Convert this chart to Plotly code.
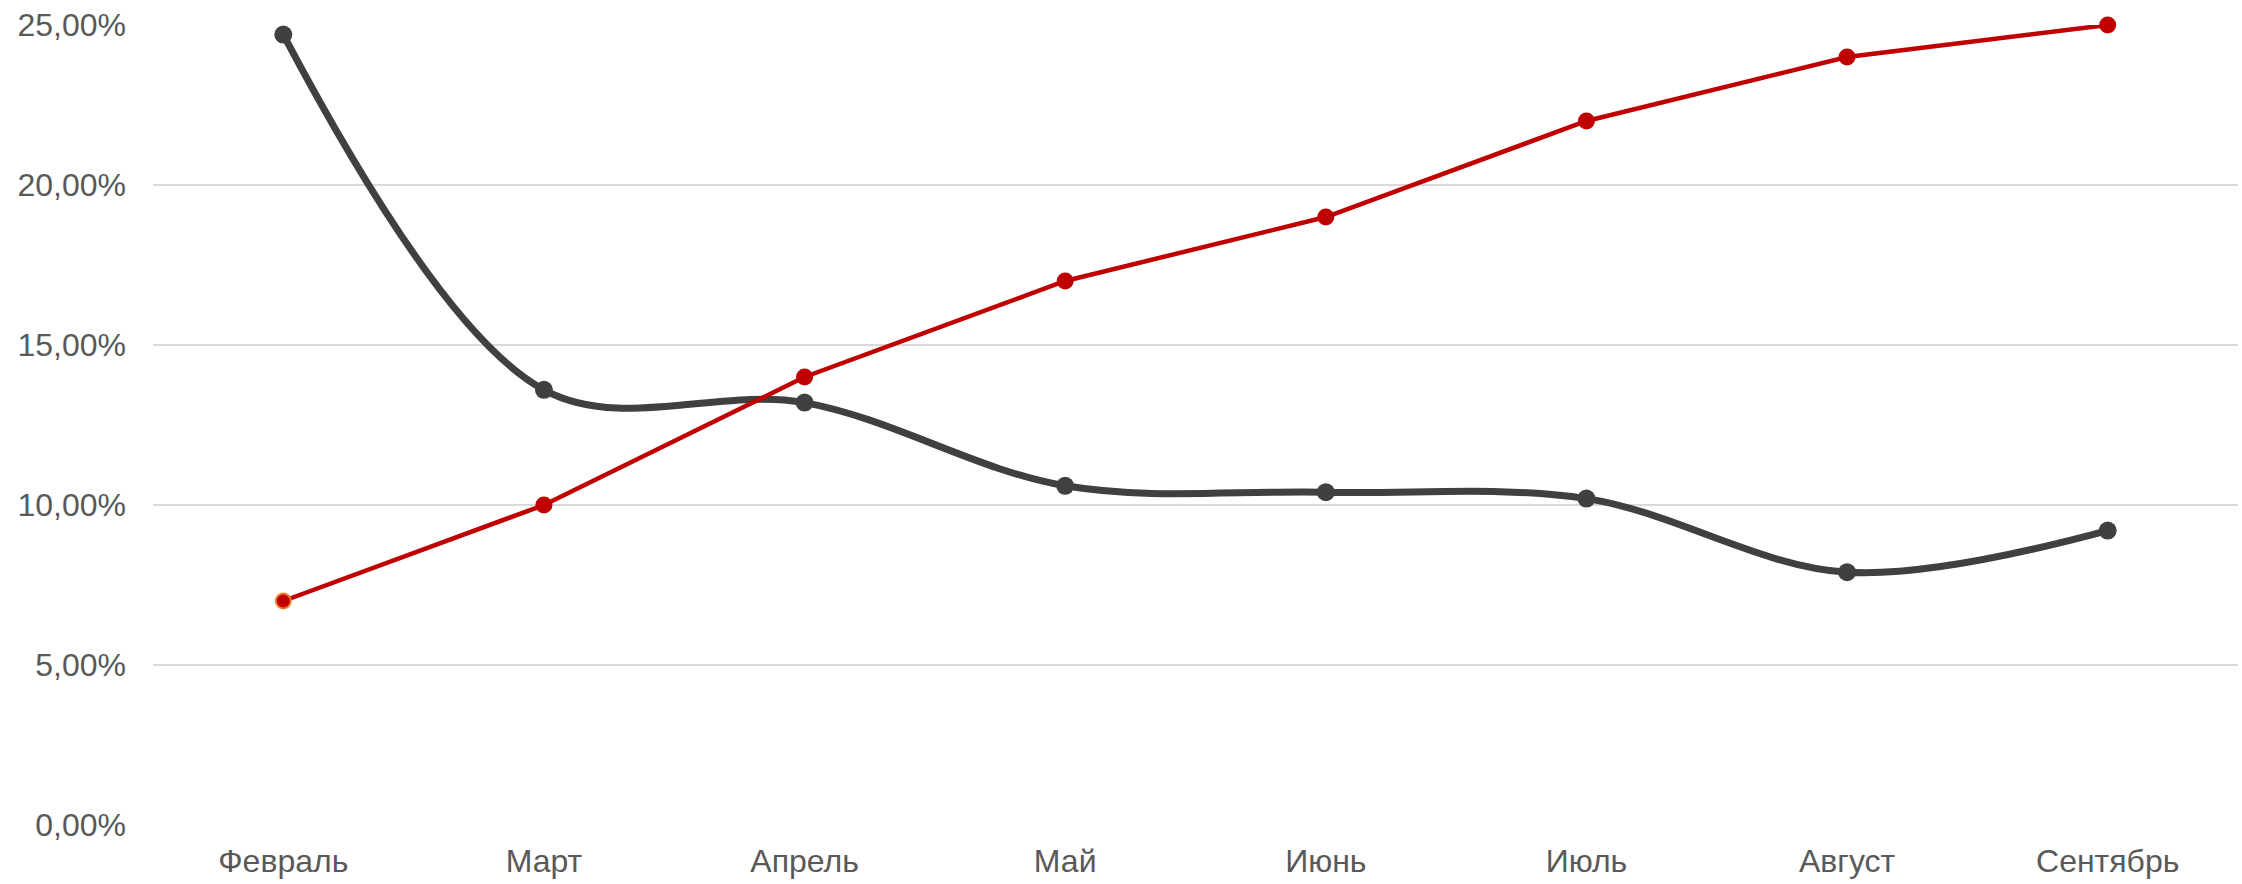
import plotly.graph_objects as go

months = ["Февраль", "Март", "Апрель", "Май", "Июнь", "Июль", "Август", "Сентябрь"]
red_values = [7.0, 10.0, 14.0, 17.0, 19.0, 22.0, 24.0, 25.0]
dark_values = [24.7, 13.6, 13.2, 10.6, 10.4, 10.2, 7.9, 9.2]
y_ticks = [0, 5, 10, 15, 20, 25]
y_tick_labels = ["0,00%", "5,00%", "10,00%", "15,00%", "20,00%", "25,00%"]

red_line_colors = ["#ED7D31"] + ["#C00000"] * (len(red_values) - 1)

fig = go.Figure()
fig.add_trace(go.Scatter(
    x=months, y=dark_values, mode="lines+markers",
    line=dict(color="#404040", width=7, shape="spline", smoothing=1.0),
    marker=dict(color="#404040", size=18),
    cliponaxis=False, showlegend=False,
))
fig.add_trace(go.Scatter(
    x=months, y=red_values, mode="lines+markers",
    line=dict(color="#C00000", width=4.5),
    marker=dict(color="#C00000", size=15, line=dict(color=red_line_colors, width=2)),
    cliponaxis=False, showlegend=False,
))

fig.update_layout(
    width=2242, height=884,
    margin=dict(l=153, r=4, t=25, b=59),
    paper_bgcolor="white", plot_bgcolor="white",
    font=dict(family="Liberation Sans, Arial, sans-serif", size=32, color="#595959"),
    xaxis=dict(
        type="category", range=[-0.5, 7.5], showgrid=False, zeroline=False,
        showline=False, ticks="", ticklabelstandoff=14,
        tickfont=dict(size=32, color="#595959"),
    ),
    yaxis=dict(
        range=[0, 25], tickvals=y_ticks, ticktext=y_tick_labels,
        showgrid=True, gridcolor="#D9D9D9", gridwidth=2, zeroline=False,
        showline=False, ticks="", ticklabelstandoff=26,
        tickfont=dict(size=32, color="#595959"),
    ),
)

fig.write_html("out.html")
